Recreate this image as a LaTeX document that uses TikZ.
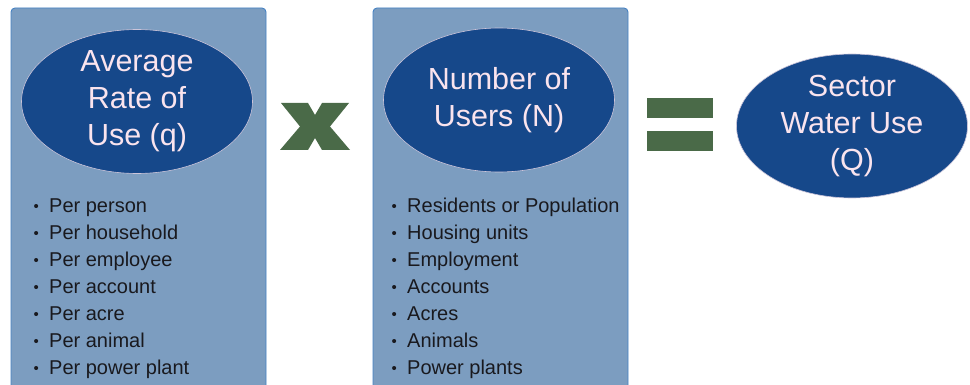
\documentclass[tikz,border=0pt]{standalone}
\usepackage{fontspec}
\setmainfont{Liberation Sans}
\usetikzlibrary{shapes.geometric}
\definecolor{boxfill}{RGB}{124,157,192}
\definecolor{boxline}{RGB}{70,130,195}
\definecolor{ellfill}{RGB}{22,72,138}
\definecolor{elltext}{RGB}{250,228,238}
\definecolor{opgreen}{RGB}{74,106,72}
\definecolor{listtext}{RGB}{25,25,30}
\newcommand\blt{\makebox[15.5pt][l]{\raisebox{1.5pt}{\fontsize{15}{15}\selectfont •}}}
\tikzset{
  panel/.style={draw=boxline, line width=0.9pt, fill=boxfill, rounded corners=4pt},
  oval/.style={ellipse, draw=elltext!80!ellfill, line width=0.6pt, fill=ellfill, text=elltext,
    minimum width=231pt, minimum height=144pt, inner sep=0pt, align=center,
    font=\fontsize{30.5}{37}\selectfont},
  item/.style={anchor=base west, inner sep=0pt, text=listtext, font=\fontsize{20}{27}\selectfont},
  opshape/.style={fill=opgreen, draw=none}
}
\begin{document}
\begin{tikzpicture}[x=1pt,y=-1pt]
\useasboundingbox (0,0) rectangle (970,385);
\clip (0,0) rectangle (970,385);
\fill[white] (0,0) rectangle (970,385);
% panels
\draw[panel] (11,8) rectangle (266,400);
\draw[panel] (373,8) rectangle (628,400);
% ovals
\node[oval] (rate) at (137,101.5) {Average\\Rate of\\Use (q)};
\node[oval] (users) at (499,100) {Number of\\Users (N)};
\node[oval] (sector) at (852,126) {Sector\\Water Use\\(Q)};
% times sign
\fill[opshape] (281,103) -- (308,103) -- (315,115) -- (322,103) -- (349,103) -- (330,126.5)
  -- (350,150) -- (322,150) -- (315,138) -- (308,150) -- (280,150) -- (300,126.5) -- cycle;
% equals sign
\fill[opshape] (647,98) rectangle (713,118);
\fill[opshape] (647,131) rectangle (713,151);
% lists
\foreach \t [count=\i] in {Per person, Per household, Per employee, Per account, Per acre, Per animal, Per power plant}
  \node[item] (l\i) at (33.5,{212.5+27*(\i-1)}) {\blt\t};
\foreach \t [count=\i] in {Residents or Population, Housing units, Employment, Accounts, Acres, Animals, Power plants}
  \node[item] (r\i) at (391.5,{212.5+27*(\i-1)}) {\blt\t};
\end{tikzpicture}
\end{document}
